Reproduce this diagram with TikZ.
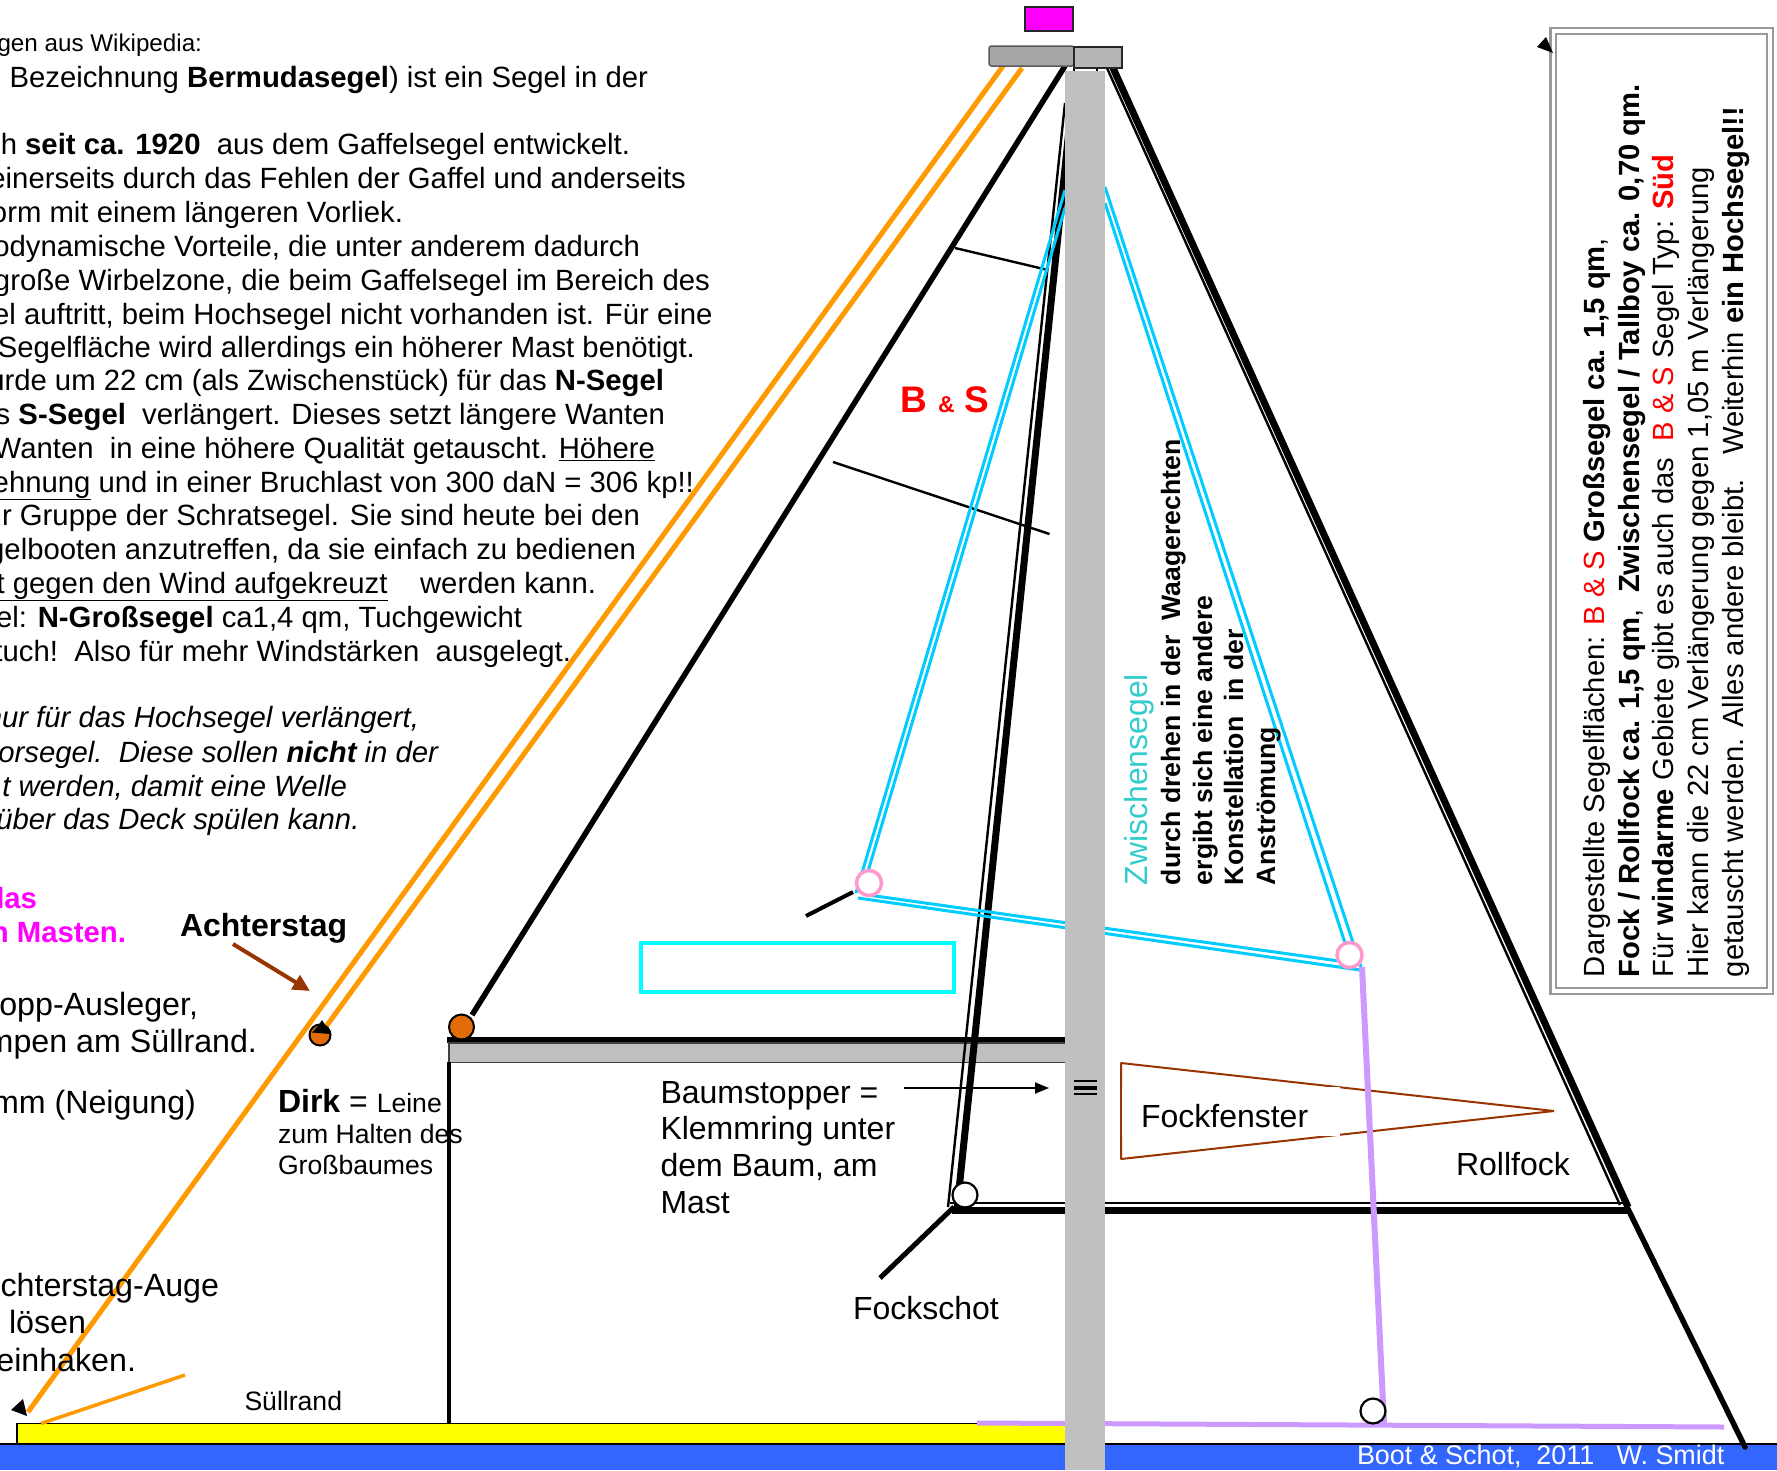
\documentclass[tikz,border=0pt]{standalone}
\usepackage{fontspec}
\setmainfont{Liberation Sans}
\usetikzlibrary{arrows.meta}
\definecolor{orangeL}{HTML}{FF9900}
\definecolor{orangeD}{HTML}{E36C0A}
\definecolor{cyanL}{HTML}{00CCFF}
\definecolor{cyanB}{HTML}{00FFFF}
\definecolor{pinkL}{HTML}{FF99CC}
\definecolor{purpleL}{HTML}{CC99FF}
\definecolor{brownL}{HTML}{993300}
\definecolor{mastG}{HTML}{C0C0C0}
\definecolor{darkG}{HTML}{A6A6A6}
\definecolor{frameG}{HTML}{999999}
\definecolor{blueB}{HTML}{3366FF}
\definecolor{turq}{HTML}{33CCCC}
\definecolor{magentaL}{HTML}{FF00FF}
\definecolor{redL}{HTML}{FF0000}
\definecolor{yellowL}{HTML}{FFFF00}
\tikzset{
 txt/.style={inner sep=0pt,outer sep=0pt,align=left},
 endtxt/.style={txt,anchor=base east,font=\fontsize{29.3}{33}\selectfont},
 largetxt/.style={txt,anchor=base east,font=\fontsize{32.2}{36}\selectfont},
 italtxt/.style={txt,anchor=base east,font=\fontsize{29.3}{33}\selectfont\itshape},
 magtxt/.style={txt,anchor=base east,font=\fontsize{29.3}{33}\selectfont\bfseries,text=magentaL},
 begtxt/.style={txt,anchor=base west,font=\fontsize{32}{36}\selectfont},
 smalltxt/.style={txt,anchor=base west,font=\fontsize{26.6}{30}\selectfont},
 rottxt/.style={txt,anchor=base west,rotate=90,font=\fontsize{29.2}{33}\selectfont},
 midtxt/.style={txt,anchor=base west,rotate=90,font=\fontsize{26.6}{30}\selectfont\bfseries},
 redtxt/.style={txt,anchor=base west,text=redL,font=\fontsize{37}{40}\selectfont\bfseries},
 tip/.style={fill=black,draw=none},
 orangeline/.style={draw=orangeL,line width=5pt},
 cyanline/.style={draw=cyanL,line width=3pt},
 thinblack/.style={draw=black,line width=2.4pt},
 thickblack/.style={draw=black,line width=7pt},
 medblack/.style={draw=black,line width=5.5pt},
 pinkring/.style={circle,draw=pinkL,line width=3.5pt,fill=white,minimum size=25pt,inner sep=0pt},
 whitering/.style={circle,draw=black,line width=2.2pt,fill=white,minimum size=25pt,inner sep=0pt},
 dotring/.style={circle,draw=black,line width=2pt,fill=orangeD,inner sep=0pt},
}
\begin{document}
\begin{tikzpicture}[x=1pt,y=-1pt]
\useasboundingbox (0,0) rectangle (1777,1470);
\clip (0,0) rectangle (1777,1470);
\fill[white] (0,0) rectangle (1777,1470);
% ground
\path[fill=blueB] (0,1444) rectangle (1777,1470);
\draw[black,line width=1.8pt] (0,1444) -- (1777,1444);
\path[fill=yellowL,draw=black,line width=1.8pt] (17,1423.5) rectangle (1070,1444);
% stays
\coordinate (stagA) at (1003,66);
\coordinate (stagAe) at (28,1412);
\coordinate (stagB) at (1022,68);
\coordinate (stagBe) at (325,1028);
\draw[orangeline] (stagA) -- (stagAe);
\draw[orangeline] (stagB) -- (stagBe);
\draw[draw=orangeL,line width=3.5pt] (41,1423.5) -- (185,1375);
\fill[tip] (23,1399) -- (11,1410) -- (27,1416) -- cycle;
% dirk dot
\node[dotring,minimum size=21pt] (dirkdot) at (320,1035) {};
\fill[tip] (312,1032.5) -- (318,1026) -- (322,1020) -- (326,1026) -- (330.5,1034) -- cycle;
% main sail
\draw[medblack] (472,1015) -- (1065,66);
\draw[draw=black,line width=5.5pt] (447,1040) -- (1066,1040);
\path[fill=mastG,draw=black!75,line width=1.8pt] (449,1043) rectangle (1066,1062.5);
\draw[draw=black,line width=4pt] (449,1062) -- (449,1424);
\node[dotring,minimum size=25pt] (clew) at (461.5,1027) {};
% battens
\draw[thinblack] (955,248) -- (1048,270);
\draw[thinblack] (833,462) -- (1049.5,534);
% jib luff
\draw[thickblack] (957,1209) -- (1070,120);
\draw[thinblack] (948,1207) -- (1065,103);
\draw[thickblack] (1113,68) -- (1628,1207);
\draw[thinblack] (1107,68) -- (1620,1205);
\draw[thickblack] (952,1210) -- (1628,1210);
\draw[thinblack] (950,1203) -- (1628,1203);
\draw[draw=black,line width=5.5pt,line cap=round] (1627,1207) -- (1745,1447);
\draw[draw=black,line width=5pt] (880,1278) -- (954,1207);
\node[whitering] (tack) at (965,1195) {};
% fenster
\path[draw=brownL,line width=2pt,line join=bevel] (1121,1063) -- (1554,1111) -- (1121,1159) -- cycle;
\fill[white] (1122,1087) rectangle (1340,1136);
% tallboy
\draw[cyanline] (1065,190) -- (856,893);
\draw[cyanline] (1065,208) -- (867.5,873);
\draw[cyanline] (1105,187) -- (1361,967);
\draw[cyanline] (1105,203) -- (1345,943);
\draw[cyanline] (868,895) -- (1339,961);
\draw[cyanline] (858,898) -- (1360,970);
\draw[draw=black,line width=4pt] (853,892) -- (806,916);
\node[pinkring] (ringL) at (869,883) {};
\node[pinkring] (ringR) at (1349.5,955) {};
\path[draw=cyanB,line width=3.5pt] (641,943) rectangle (954,992);
% purple
\draw[draw=purpleL,line width=6pt] (1362,967) -- (1384,1424);
\draw[draw=purpleL,line width=5pt] (977,1423) -- (1724,1427);
\node[whitering] (block) at (1373,1411) {};
% mast head
\path[fill=magentaL,draw=black!85,line width=1.8pt] (1025,7) rectangle (1073,31);
\path[fill=darkG,draw=black!65,line width=1.5pt,rounded corners=2.5pt] (989,46) rectangle (1074,66);
\draw[draw=black,line width=1.5pt] (1074,66) -- (1074,72) (1097,66) -- (1097,72);
\path[fill=mastG!95!black,draw=black!85,line width=1.5pt] (1074,47) rectangle (1122,68);
\fill[mastG] (1065,71) rectangle (1105,1470);
% baumstopper mark
\draw[draw=black,line width=1.8pt] (1074,1081) -- (1097,1081) (1074,1094) -- (1097,1094);
\draw[draw=black,line width=4pt] (1074,1087.5) -- (1097,1087.5);
% arrows
\draw[draw=black,line width=1.8pt,-{Triangle[length=14pt,width=11pt]}] (904,1088) -- (1049,1088);
\draw[draw=brownL,line width=4pt,-{Triangle[length=17pt,width=16pt]}] (233,944) -- (310,991);
% text box
\path[fill=white,draw=frameG,line width=2.5pt] (1550.5,28) rectangle (1773,994);
\path[draw=frameG,line width=2.5pt] (1556,34) rectangle (1767,988);
\fill[tip] (1546,37) -- (1537,47) -- (1553,53) -- cycle;
\node[rottxt] (r1) at (1604.5,977) {Dargestellte Segelflächen: \textcolor{redL}{B \& S} \textbf{Großsegel ca. 1,5 qm},};
\node[rottxt] (r2) at (1639,977) {\textbf{Fock / Rollfock ca. 1,5 qm},\ \ \textbf{Zwischensegel / Tallboy ca. 0,70 qm.}};
\node[rottxt] (r3) at (1673,977) {Für \textbf{windarme} Gebiete gibt es auch das\ \ \textcolor{redL}{B \& S} Segel Typ: \textcolor{redL}{\textbf{Süd}}};
\node[rottxt] (r4) at (1708,977) {Hier kann die 22 cm Verlängerung gegen 1,05 m Verlängerung};
\node[rottxt] (r5) at (1743,977) {getauscht werden. Alles andere bleibt.\ \ \ Weiterhin \textbf{ein Hochsegel!!}};
% mast text
\node[txt,anchor=base west,rotate=90,font=\fontsize{31.9}{35}\selectfont,text=turq] (z0) at (1147,885) {Zwischensegel};
\node[midtxt] (z1) at (1180,885) {durch drehen in der\ \ Waagerechten};
\node[midtxt] (z2) at (1212,885) {ergibt sich eine andere};
\node[midtxt] (z3) at (1243,885) {Konstellation\ \ in der};
\node[midtxt] (z4) at (1275,885) {Anströmung};
% red label
\node[redtxt] (bsB) at (900.5,412) {B};
\node[redtxt,font=\fontsize{23}{26}\selectfont\bfseries] (bsA) at (938,412) {\&};
\node[redtxt] (bsS) at (964.5,412) {S};
% left text
\node[endtxt,font=\fontsize{24.2}{28}\selectfont] (t1) at (202,51) {gen aus Wikipedia:};
\node[endtxt] (t2) at (648,87) {Bezeichnung \textbf{Bermudasegel}) ist ein Segel in der};
\node[endtxt] (t3) at (630,154) {ch \textbf{seit ca. 1920}\ \ aus dem Gaffelsegel entwickelt.};
\node[endtxt] (t4) at (686,188.5) {einerseits durch das Fehlen der Gaffel und anderseits};
\node[endtxt] (t5) at (403,222) {orm mit einem längeren Vorliek.};
\node[endtxt] (t6) at (640,256) {odynamische Vorteile, die unter anderem dadurch};
\node[endtxt] (t7) at (710,290) {große Wirbelzone, die beim Gaffelsegel im Bereich des};
\node[endtxt] (t8) at (712.5,324) {el auftritt, beim Hochsegel nicht vorhanden ist. Für eine};
\node[endtxt] (t9) at (695,357) {Segelfläche wird allerdings ein höherer Mast benötigt.};
\node[endtxt] (t10) at (664,390.5) {urde um 22 cm (als Zwischenstück) für das \textbf{N-Segel}};
\node[endtxt] (t11) at (665,424) {s \textbf{S-Segel}\ \ verlängert. Dieses setzt längere Wanten};
\node[endtxt] (t12) at (655,458.5) {Wanten\ \ in eine höhere Qualität getauscht. \underline{Höhere}};
\node[endtxt] (t13) at (694,492) {\underline{ehnung} und in einer Bruchlast von 300 daN = 306 kp!!};
\node[endtxt] (t14) at (640,525) {ur Gruppe der Schratsegel. Sie sind heute bei den};
\node[endtxt] (t15) at (636,559) {gelbooten anzutreffen, da sie einfach zu bedienen};
\node[endtxt] (t16) at (596,593) {\underline{t gegen den Wind aufgekreuzt}\ \ \ \ werden kann.};
\node[endtxt] (t17) at (522,627) {el: \textbf{N-Großsegel} ca1,4 qm, Tuchgewicht};
\node[endtxt] (t18) at (571,661.5) {tuch!\ \ Also für mehr Windstärken\ \ ausgelegt.};
\node[italtxt] (i1) at (419,727.5) {nur für das Hochsegel verlängert,};
\node[italtxt] (i2) at (438,762) {orsegel.\ \ Diese sollen \textbf{nicht} in der};
\node[italtxt] (i3) at (347,796) {t werden, damit eine Welle};
\node[italtxt] (i4) at (359.5,829) {über das Deck spülen kann.};
\node[magtxt] (m1) at (37,908) {las};
\node[magtxt] (m2) at (126,942) {n Masten.};
\node[txt,anchor=base west,font=\fontsize{32}{36}\selectfont\bfseries] (achter) at (180,936) {Achterstag};
\node[largetxt] (a1) at (198,1015) {opp-Ausleger,};
\node[largetxt] (a2) at (257,1052) {mpen am Süllrand.};
\node[largetxt] (a3) at (196,1113) {mm (Neigung)};
\node[begtxt] (dirk) at (278,1112) {\textbf{Dirk} = {\fontsize{26.6}{30}\selectfont Leine}};
\node[smalltxt] (dirk2) at (278,1143) {zum Halten des};
\node[smalltxt] (dirk3) at (278,1174) {Großbaumes};
\node[largetxt] (b1) at (219,1296.5) {chterstag-Auge};
\node[largetxt] (b2) at (86,1333.5) {t lösen};
\node[largetxt] (b3) at (136,1371) {einhaken.};
\node[smalltxt] (sull) at (244.5,1410) {Süllrand};
\node[begtxt] (bs1) at (660.5,1103) {Baumstopper =};
\node[begtxt] (bs2) at (660.5,1139.5) {Klemmring unter};
\node[begtxt] (bs3) at (660.5,1176.5) {dem Baum, am};
\node[begtxt] (bs4) at (660.5,1213) {Mast};
\node[begtxt] (fs) at (853,1319) {Fockschot};
\node[begtxt] (ff) at (1141,1127) {Fockfenster};
\node[begtxt] (rf) at (1456,1175) {Rollfock};
\node[smalltxt,font=\fontsize{26.9}{30}\selectfont,text=white] (boot) at (1357,1464) {Boot \& Schot,\ \ 2011\ \ \ W. Smidt};
\end{tikzpicture}
\end{document}
